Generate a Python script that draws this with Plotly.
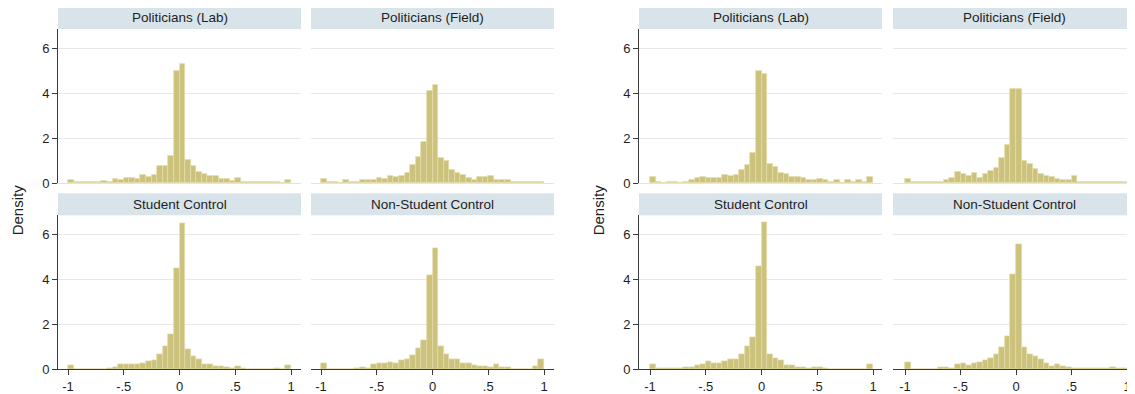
import plotly.graph_objects as go

# Window is 1135x394; the page body has an 8px default margin, so the figure
# itself is drawn 8px smaller and all pixel positions are offset by 8.
WIN_W, WIN_H = 1135, 394
OFF = 8
W, H = WIN_W - OFF, WIN_H - OFF
VS = 0.98  # observed vertical compression of the rendered page

# ---------------- data (density per bin; 40 bins of width .05 from -1 to 1) ----------------
BIN_START = -1.0
BIN_WIDTH = 0.05

panel_titles = ["Politicians (Lab)", "Politicians (Field)", "Student Control", "Non-Student Control"]

left_pol_lab = [0.15, 0.04, 0.04, 0.04, 0.04, 0.07, 0.10, 0.07, 0.18, 0.15,
                0.22, 0.22, 0.18, 0.36, 0.28, 0.36, 0.78, 0.75, 1.20, 5.00,
                5.32, 1.04, 0.78, 0.50, 0.40, 0.30, 0.30, 0.18, 0.18, 0.10,
                0.22, 0.07, 0.07, 0.07, 0.07, 0.04, 0.04, 0.04, 0.00, 0.12]
left_pol_field = [0.19, 0.04, 0.04, 0.02, 0.12, 0.04, 0.04, 0.12, 0.12, 0.15,
                  0.22, 0.19, 0.30, 0.27, 0.30, 0.47, 0.80, 1.18, 1.85, 4.09,
                  4.37, 1.12, 0.97, 0.57, 0.47, 0.37, 0.22, 0.15, 0.27, 0.27,
                  0.34, 0.15, 0.12, 0.12, 0.07, 0.07, 0.07, 0.04, 0.04, 0.07]
left_student = [0.19, 0.00, 0.00, 0.00, 0.00, 0.00, 0.00, 0.06, 0.10, 0.22,
                0.22, 0.22, 0.22, 0.25, 0.37, 0.41, 0.65, 1.02, 1.57, 4.50,
                6.49, 0.90, 0.56, 0.46, 0.22, 0.22, 0.15, 0.15, 0.10, 0.06,
                0.15, 0.06, 0.00, 0.00, 0.00, 0.00, 0.00, 0.06, 0.00, 0.19]
left_nonstudent = [0.28, 0.00, 0.00, 0.00, 0.00, 0.00, 0.04, 0.10, 0.04, 0.20,
                   0.27, 0.27, 0.32, 0.27, 0.38, 0.46, 0.64, 0.92, 1.27, 4.19,
                   5.38, 1.02, 0.67, 0.43, 0.43, 0.25, 0.25, 0.18, 0.13, 0.13,
                   0.10, 0.20, 0.10, 0.10, 0.00, 0.00, 0.00, 0.00, 0.13, 0.44]

right_pol_lab = [0.27, 0.07, 0.03, 0.07, 0.07, 0.03, 0.07, 0.12, 0.22, 0.27,
                 0.22, 0.22, 0.22, 0.37, 0.30, 0.37, 0.58, 0.81, 1.33, 4.98,
                 4.86, 0.84, 0.73, 0.45, 0.42, 0.27, 0.27, 0.22, 0.12, 0.15,
                 0.19, 0.12, 0.07, 0.12, 0.03, 0.12, 0.07, 0.12, 0.07, 0.27]
right_pol_field = [0.19, 0.04, 0.04, 0.07, 0.07, 0.07, 0.07, 0.15, 0.22, 0.48,
                   0.42, 0.34, 0.45, 0.22, 0.42, 0.52, 0.67, 1.14, 1.71, 4.20,
                   4.20, 0.99, 0.84, 0.63, 0.40, 0.34, 0.27, 0.19, 0.12, 0.15,
                   0.30, 0.07, 0.07, 0.07, 0.04, 0.04, 0.04, 0.04, 0.04, 0.04]
right_student = [0.24, 0.05, 0.06, 0.03, 0.03, 0.03, 0.07, 0.10, 0.16, 0.21,
                 0.35, 0.26, 0.26, 0.37, 0.44, 0.44, 0.65, 1.04, 1.44, 4.59,
                 6.57, 0.65, 0.48, 0.39, 0.16, 0.16, 0.10, 0.10, 0.05, 0.10,
                 0.10, 0.05, 0.02, 0.02, 0.02, 0.02, 0.02, 0.02, 0.02, 0.21]
right_nonstudent = [0.33, 0.02, 0.02, 0.02, 0.02, 0.02, 0.10, 0.10, 0.06, 0.21,
                    0.26, 0.18, 0.26, 0.29, 0.39, 0.51, 0.68, 1.00, 1.49, 4.25,
                    5.55, 1.00, 0.68, 0.59, 0.44, 0.26, 0.14, 0.21, 0.14, 0.09,
                    0.06, 0.06, 0.03, 0.06, 0.03, 0.06, 0.06, 0.09, 0.06, 0.06]

x_tick_vals = [-1, -0.5, 0, 0.5, 1]
x_tick_text = ["-1", "-.5", "0", ".5", "1"]
y_tick_vals = [0, 2, 4, 6]
y_tick_text = ["0", "2", "4", "6"]
y_label = "Density"

# ---------------- layout geometry (window pixels) ----------------
panels = [
    (0, 0, 0, left_pol_lab), (0, 0, 1, left_pol_field),
    (0, 1, 0, left_student), (0, 1, 1, left_nonstudent),
    (1, 0, 0, right_pol_lab), (1, 0, 1, right_pol_field),
    (1, 1, 0, right_student), (1, 1, 1, right_nonstudent),
]
col_px = {(0, 0): (58, 301), (0, 1): (311, 554), (1, 0): (639, 882), (1, 1): (893, 1135)}
tick_px = {(0, 0): (68, 291), (0, 1): (321, 544), (1, 0): (650, 873), (1, 1): (905, 1127)}
row_plot_px = {0: (29, 183.7), 1: (216, 370.5)}
row_strip_px = {0: (7, 29), 1: (194, 216)}
Y_TOP = 6.86


def px_x(p):
    return min(max((p - OFF) / W, 0.0), 1.0)


def px_y(p):
    return min(max(1 - ((p - OFF) / VS) / H, 0.0), 1.0)


FONT = "Arial, 'Liberation Sans', sans-serif"
BAR_FILL = "rgb(204,194,125)"
BAR_LINE = "rgb(226,219,168)"
STRIP = "#d8e4ea"
GRID = "#e6e9eb"
AXIS = "#3a3a3a"
TXT = "#1e1e1e"

centers = [BIN_START + BIN_WIDTH * (i + 0.5) for i in range(len(left_pol_lab))]

fig = go.Figure()
layout = dict(
    width=W, height=H, margin=dict(l=0, r=0, t=0, b=0),
    paper_bgcolor="white", plot_bgcolor="white",
    showlegend=False, bargap=0, font=dict(family=FONT, size=12, color=TXT),
)
shapes, annotations = [], []

for k, (g, r, c, vals) in enumerate(panels, start=1):
    xa = "x" if k == 1 else f"x{k}"
    ya = "y" if k == 1 else f"y{k}"
    fig.add_trace(go.Bar(
        x=centers, y=vals, width=BIN_WIDTH, xaxis=xa, yaxis=ya,
        marker=dict(color=BAR_FILL, line=dict(color=BAR_LINE, width=0.7)),
        hoverinfo="x+y",
    ))
    d0, d1 = col_px[(g, c)]
    pm1, p1 = tick_px[(g, c)]
    scale = (p1 - pm1) / 2.0
    d1_eff = min(d1, OFF + W)
    xr = [-1 - (pm1 - d0) / scale, 1 + (d1_eff - p1) / scale]
    t0, t1 = row_plot_px[r]
    ydom = [px_y(t1), px_y(t0)]
    xdom = [px_x(d0), px_x(d1_eff)]
    bottom = (r == 1)
    left = (c == 0)
    layout["xaxis" if k == 1 else f"xaxis{k}"] = dict(
        domain=xdom, range=xr, anchor=ya, showgrid=False, zeroline=False,
        showline=True, linecolor=AXIS if bottom else "#dbe6ec", linewidth=1,
        ticks="outside" if bottom else "", ticklen=5, tickcolor=AXIS,
        tickvals=x_tick_vals, ticktext=x_tick_text, showticklabels=bottom,
        tickfont=dict(size=13, color=TXT), fixedrange=True,
    )
    layout["yaxis" if k == 1 else f"yaxis{k}"] = dict(
        domain=ydom, range=[0, Y_TOP], anchor=xa, showgrid=True, gridcolor=GRID,
        gridwidth=1, zeroline=False, showline=left, linecolor=AXIS, linewidth=1,
        ticks="outside" if left else "", ticklen=5, tickcolor=AXIS,
        tickvals=y_tick_vals, ticktext=y_tick_text, showticklabels=left,
        tickfont=dict(size=13, color=TXT), fixedrange=True,
    )
    s0, s1 = row_strip_px[r]
    shapes.append(dict(type="rect", xref="paper", yref="paper",
                       x0=xdom[0], x1=xdom[1], y0=px_y(s1), y1=px_y(s0),
                       fillcolor=STRIP, line=dict(width=0), layer="below"))
    annotations.append(dict(text=panel_titles[r * 2 + c], xref="paper", yref="paper",
                            x=px_x((d0 + d1) / 2), y=px_y((s0 + s1) / 2),
                            showarrow=False, xanchor="center", yanchor="middle",
                            font=dict(size=13.5, color=TXT)))

for xpx in (17, 598):
    annotations.append(dict(text=y_label, xref="paper", yref="paper",
                            x=px_x(xpx), y=px_y(211), textangle=-90,
                            showarrow=False, xanchor="center", yanchor="middle",
                            font=dict(size=15, color=TXT)))

layout["shapes"] = shapes
layout["annotations"] = annotations
fig.update_layout(**layout)
fig.write_html("out.html")
